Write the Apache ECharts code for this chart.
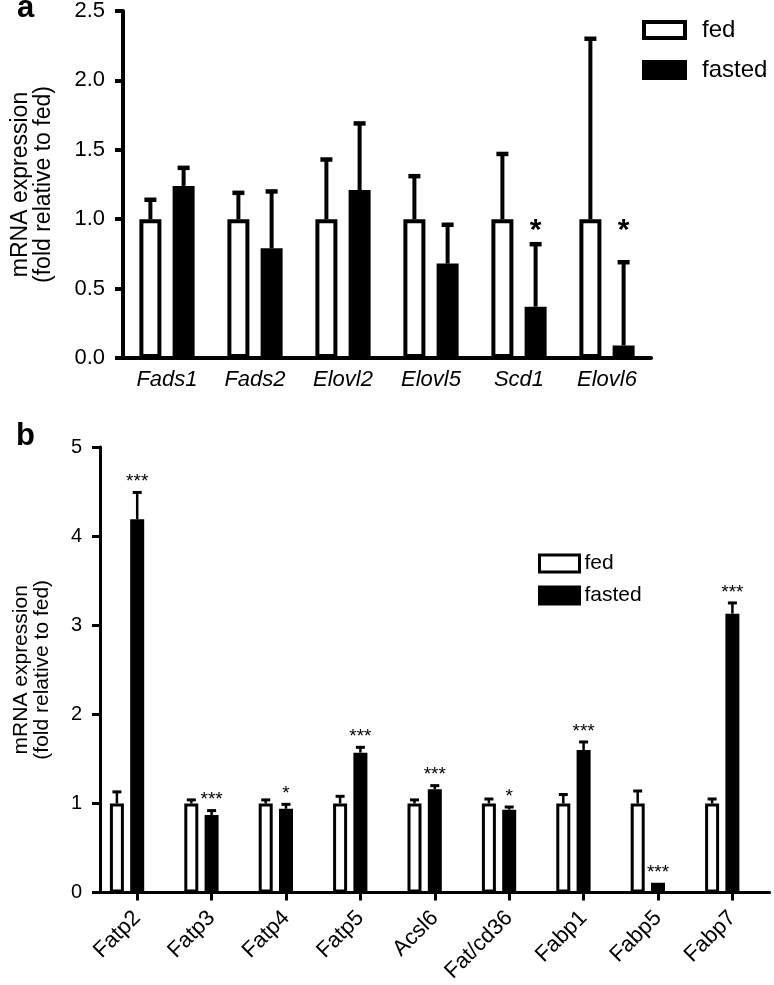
<!DOCTYPE html>
<html><head><meta charset="utf-8">
<script src="https://cdn.jsdelivr.net/npm/echarts@6/dist/echarts.min.js"></script>
<style>html,body{margin:0;padding:0;background:#fff}#c{width:774px;height:985px}</style>
</head><body><div id="c"></div>
<script>
// ---------- data ----------
const groupNames = ['fed', 'fasted'];

// panel a
const genesA = ['Fads1', 'Fads2', 'Elovl2', 'Elovl5', 'Scd1', 'Elovl6'];
const fedA = [1, 1, 1, 1, 1, 1];
const fedSemA = [0.14, 0.19, 0.43, 0.31, 0.47, 1.30];
const fastedA = [1.24, 0.79, 1.21, 0.68, 0.37, 0.09];
const fastedSemA = [0.13, 0.41, 0.48, 0.28, 0.45, 0.60];
const sigA = ['', '', '', '', '*', '*'];
const yTicksA = [0, 0.5, 1.0, 1.5, 2.0, 2.5];

// panel b
const genesB = ['Fatp2', 'Fatp3', 'Fatp4', 'Fatp5', 'Acsl6', 'Fat/cd36', 'Fabp1', 'Fabp5', 'Fabp7'];
const fedB = [1, 1, 1, 1, 1, 1, 1, 1, 1];
const fedSemB = [0.13, 0.04, 0.04, 0.08, 0.04, 0.05, 0.10, 0.14, 0.05];
const fastedB = [4.19, 0.87, 0.94, 1.57, 1.16, 0.93, 1.60, 0.11, 3.13];
const fastedSemB = [0.30, 0.05, 0.05, 0.06, 0.04, 0.03, 0.09, 0, 0.12];
const sigB = ['***', '***', '*', '***', '***', '*', '***', '***', '***'];
const yTicksB = [0, 1, 2, 3, 4, 5];

// ---------- style ----------
const FONT = "'Liberation Sans', Arial, Helvetica, sans-serif";
const A = { bw: 22, gap: 0.51, border: 4, cap: 12, elw: 4, starValue: 0.93 };
const B = { bw: 14, gap: 0.45, border: 3, cap: 9, elw: 2.5 };

const chart = echarts.init(document.getElementById('c'), null, { renderer: 'canvas' });

function errSeries(name, xi, vals, sems, sig, offsetPx, cfg, panel) {
  return {
    type: 'custom', name: name + '_err', xAxisIndex: xi, yAxisIndex: xi, z: 5, silent: true,
    data: vals.map((v, i) => [i, v, sems[i]]),
    encode: { x: 0, y: 1 },
    renderItem: function (params, api) {
      const i = api.value(0), v = api.value(1), e = api.value(2);
      const base = api.coord([i, v]);
      const top = api.coord([i, v + e]);
      const x = base[0] + offsetPx;
      const ch = [];
      if (e > 0) {
        ch.push({ type: 'line', shape: { x1: x, y1: base[1], x2: x, y2: top[1] }, style: { stroke: '#000', lineWidth: cfg.elw } });
        ch.push({ type: 'line', shape: { x1: x - cfg.cap / 2, y1: top[1], x2: x + cfg.cap / 2, y2: top[1] }, style: { stroke: '#000', lineWidth: cfg.elw + 0.5 } });
      }
      const s = sig ? sig[params.dataIndex] : '';
      if (s) {
        if (panel === 'a') {
          const p = api.coord([i, cfg.starValue]);
          ch.push({ type: 'text', style: { text: s, x: x, y: p[1] + 2, align: 'center', verticalAlign: 'middle', font: 'bold 30px ' + FONT, fill: '#000' } });
        } else {
          ch.push({ type: 'text', style: { text: s, x: x, y: top[1] - 1, align: 'center', verticalAlign: 'bottom', font: '19px ' + FONT, fill: '#000' } });
        }
      }
      return { type: 'group', children: ch };
    }
  };
}

const offA = (A.bw + A.gap * A.bw) / 2;
const offB = (B.bw + B.gap * B.bw);

const option = {
  animation: false,
  backgroundColor: '#fff',
  textStyle: { fontFamily: FONT, color: '#000' },
  graphic: [
    { type: 'text', style: { text: 'a', x: 17, y: 24, verticalAlign: 'bottom', font: 'bold 31px ' + FONT, fill: '#000' } },
    { type: 'text', style: { text: 'b', x: 16, y: 452, verticalAlign: 'bottom', font: 'bold 31px ' + FONT, fill: '#000' } }
  ],
  legend: [
    {
      orient: 'vertical', left: 642, top: 18, padding: 0, itemWidth: 41, itemHeight: 16, itemGap: 16,
      icon: 'rect', selectedMode: false,
      formatter: n => '\u2002' + n,
      textStyle: { fontSize: 24, fontFamily: FONT, color: '#000' },
      data: [
        { name: 'fed', itemStyle: { color: '#fff', borderColor: '#000', borderWidth: 4 } },
        { name: 'fasted', itemStyle: { color: '#000', borderColor: '#000', borderWidth: 4 } }
      ]
    },
    {
      orient: 'vertical', left: 538, top: 553, padding: 0, itemWidth: 40, itemHeight: 17, itemGap: 11,
      icon: 'rect', selectedMode: false,
      textStyle: { fontSize: 21, fontFamily: FONT, color: '#000' },
      data: [
        { name: 'fed', itemStyle: { color: '#fff', borderColor: '#000', borderWidth: 3 } },
        { name: 'fasted', itemStyle: { color: '#000', borderColor: '#000', borderWidth: 3 } }
      ]
    }
  ],
  grid: [
    { left: 123, top: 9, width: 528, height: 349, containLabel: false },
    { left: 100, top: 447, width: 669.6, height: 448, containLabel: false }
  ],
  xAxis: [
    {
      type: 'category', gridIndex: 0, data: genesA,
      axisLine: { lineStyle: { color: '#000', width: 4 } },
      axisTick: { show: false },
      axisLabel: { fontSize: 22, fontStyle: 'italic', color: '#000', margin: 11, fontFamily: FONT }
    },
    {
      type: 'category', gridIndex: 1, data: genesB,
      axisLine: { lineStyle: { color: '#000', width: 3 } },
      axisTick: { show: true, alignWithLabel: true, length: 8, lineStyle: { color: '#000', width: 3 } },
      axisLabel: { fontSize: 22, rotate: 45, color: '#000', margin: 22, fontFamily: FONT }
    }
  ],
  yAxis: [
    {
      type: 'value', gridIndex: 0, min: yTicksA[0], max: yTicksA[yTicksA.length - 1], interval: yTicksA[1] - yTicksA[0],
      axisLine: { show: true, lineStyle: { color: '#000', width: 4 } },
      axisTick: { show: true, length: 8, lineStyle: { color: '#000', width: 4 } },
      splitLine: { show: false },
      axisLabel: { fontSize: 22, color: '#000', margin: 18, fontFamily: FONT, formatter: v => v.toFixed(1) },
      name: 'mRNA expression\n(fold relative to fed)', nameLocation: 'middle', nameGap: 68,
      nameTextStyle: { fontSize: 23, lineHeight: 23, color: '#000', fontFamily: FONT }
    },
    {
      type: 'value', gridIndex: 1, min: yTicksB[0], max: yTicksB[yTicksB.length - 1], interval: yTicksB[1] - yTicksB[0],
      axisLine: { show: true, lineStyle: { color: '#000', width: 3 } },
      axisTick: { show: true, length: 8, lineStyle: { color: '#000', width: 3 } },
      splitLine: { show: false },
      axisLabel: { fontSize: 20, color: '#000', margin: 18, fontFamily: FONT },
      name: 'mRNA expression\n(fold relative to fed)', nameLocation: 'middle', nameGap: 47,
      nameTextStyle: { fontSize: 21, lineHeight: 21, color: '#000', fontFamily: FONT }
    }
  ],
  series: [
    { type: 'bar', name: 'fed', xAxisIndex: 0, yAxisIndex: 0, data: fedA, barWidth: A.bw, barGap: (A.gap * 100) + '%',
      itemStyle: { color: '#fff', borderColor: '#000', borderWidth: A.border }, z: 2 },
    { type: 'bar', name: 'fasted', xAxisIndex: 0, yAxisIndex: 0, data: fastedA, barWidth: A.bw, barGap: (A.gap * 100) + '%',
      itemStyle: { color: '#000', borderColor: '#000', borderWidth: A.border }, z: 2 },
    errSeries('fed', 0, fedA, fedSemA, null, -offA, A, 'a'),
    errSeries('fasted', 0, fastedA, fastedSemA, sigA, offA, A, 'a'),

    { type: 'bar', name: 'fed', xAxisIndex: 1, yAxisIndex: 1, data: fedB, barWidth: B.bw, barGap: (B.gap * 100) + '%',
      itemStyle: { color: '#fff', borderColor: '#000', borderWidth: B.border }, z: 2 },
    { type: 'bar', name: 'fasted', xAxisIndex: 1, yAxisIndex: 1, data: fastedB, barWidth: B.bw, barGap: (B.gap * 100) + '%',
      itemStyle: { color: '#000', borderColor: '#000', borderWidth: B.border }, z: 2 },
    { type: 'bar', name: 'spacer', xAxisIndex: 1, yAxisIndex: 1, data: genesB.map(() => '-'), barWidth: B.bw, barGap: (B.gap * 100) + '%',
      itemStyle: { color: 'transparent' }, silent: true },
    errSeries('fed', 1, fedB, fedSemB, null, -offB, B, 'b'),
    errSeries('fasted', 1, fastedB, fastedSemB, sigB, 0, B, 'b')
  ]
};
chart.setOption(option);
</script>
</body></html>
